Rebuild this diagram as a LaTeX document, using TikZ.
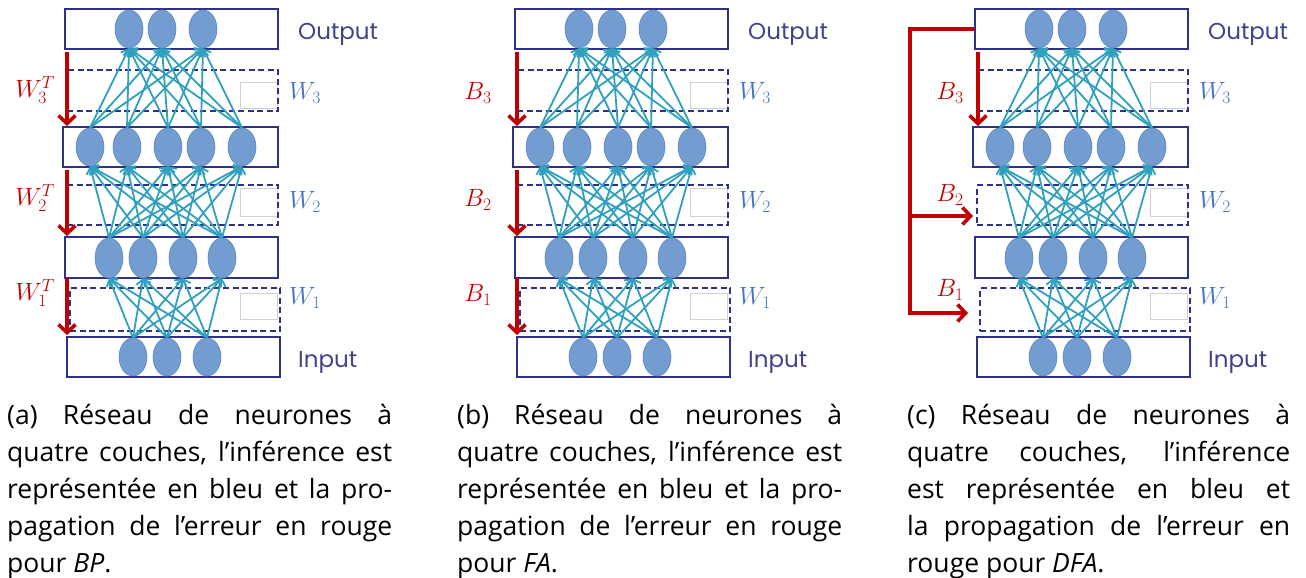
\RequirePackage{fix-cm}
\documentclass[tikz,border=0pt]{standalone}
\usetikzlibrary{arrows.meta,shapes.geometric}
\usepackage{fontspec}
\setmainfont{Open Sans}
\newfontfamily\poppinsfont{Poppins}
\definecolor{netnavy}{RGB}{46,49,136}
\definecolor{nfill}{RGB}{115,157,208}
\definecolor{nline}{RGB}{95,135,190}
\definecolor{cyanl}{RGB}{48,160,190}
\definecolor{errred}{RGB}{192,0,0}
\definecolor{wblue}{RGB}{68,114,196}
\definecolor{labelc}{RGB}{66,66,140}
\tikzset{
  box/.style={draw=netnavy, line width=1.8pt, minimum width=213pt, minimum height=40pt, inner sep=0pt},
  dbox/.style={box, dash pattern=on 6pt off 3.5pt},
  neuron/.style={ellipse, fill=nfill, draw=nline, line width=0.6pt, minimum width=28pt, minimum height=38pt, inner sep=0pt},
  conn/.style={draw=cyanl, line width=1.8pt, -{Straight Barb[length=6pt,width=11pt]}},
  err/.style={draw=errred, line width=3.6pt, -{Straight Barb[length=8pt,width=17pt]}},
  errline/.style={draw=errred, line width=3.6pt},
  ghost/.style={draw=black!18, line width=0.6pt, fill=white, minimum width=37pt, minimum height=26pt, inner sep=0pt},
  lbl/.style={font=\poppinsfont\fontsize{23}{27}\selectfont, text=labelc, inner sep=0pt, anchor=base west},
  wl/.style={text=wblue, inner sep=0pt, font=\fontsize{25}{30}\selectfont},
  rl/.style={text=errred, inner sep=0pt, font=\fontsize{25}{30}\selectfont},
  captext/.style={align=left, inner sep=0pt, anchor=base west, font=\fontsize{26.5}{37}\selectfont}
}
\newcommand\drawnet[2]{%
\begin{scope}[shift={(#2,0)}]
  \node[ghost] (#1g3) at (258.5,95) {};
  \node[ghost,minimum height=28pt] (#1g2) at (258.5,202) {};
  \node[ghost] (#1g1) at (258.5,306) {};
  \node[box] (#1ob) at (171.5,29) {};
  \node[dbox,minimum width=211pt,minimum height=41pt] (#1d3) at (172.5,90.5) {};
  \node[box,minimum width=215pt] (#1hb2) at (170.5,147) {};
  \node[dbox,minimum width=211pt] (#1d2) at (172.5,205) {};
  \node[box,minimum height=41pt] (#1hb1) at (171.5,257.5) {};
  \node[dbox,minimum width=210pt,minimum height=43pt] (#1d1) at (175,309.5) {};
  \node[box] (#1ib) at (173.5,357) {};
  \foreach \x [count=\k] in {129,162,203} \node[neuron] (#1o\k) at (\x,29) {};
  \foreach \x [count=\k] in {90,127,168,201,242} \node[neuron] (#1h2\k) at (\x,147) {};
  \foreach \x [count=\k] in {109,143,183,222} \node[neuron,minimum height=40pt] (#1h1\k) at (\x,258) {};
  \foreach \x [count=\k] in {133,167,207} \node[neuron] (#1i\k) at (\x,357) {};
  \foreach \a in {1,...,5} \foreach \b in {1,2,3} \draw[conn] (#1h2\a.north) -- (#1o\b.south);
  \foreach \a in {1,...,4} \foreach \b in {1,...,5} \draw[conn] (#1h1\a.north) -- (#1h2\b.south);
  \foreach \a in {1,2,3} \foreach \b in {1,...,4} \draw[conn] (#1i\a.north) -- (#1h1\b.south);
  \node[lbl] (#1out) at (298,40) {Output};
  \node[lbl] (#1in) at (298,367) {Input};
  \node[wl] (#1w3) at (305,93) {$W_3$};
  \node[wl] (#1w2) at (305,202) {$W_2$};
  \node[wl] (#1w1) at (305,298) {$W_1$};
\end{scope}}
\begin{document}
\begin{tikzpicture}[x=1pt,y=-1pt]
\useasboundingbox (0,0) rectangle (1306,578);
% panel (a)
\drawnet{a}{0}
\node[rl] (aW3) at (35,90) {$W_3^T$};
\node[rl] (aW2) at (35,198) {$W_2^T$};
\node[rl] (aW1) at (35,293) {$W_1^T$};
\coordinate (ar3s) at (67,52); \coordinate (ar3e) at (67,126);
\coordinate (ar2s) at (67,170); \coordinate (ar2e) at (67,236);
\coordinate (ar1s) at (67,278); \coordinate (ar1e) at (67,335);
\draw[err] (ar3s) -- (ar3e);
\draw[err] (ar2s) -- (ar2e);
\draw[err] (ar1s) -- (ar1e);
% panel (b)
\drawnet{b}{450}
\node[rl] (bB3) at (478,93) {$B_3$};
\node[rl] (bB2) at (478,200) {$B_2$};
\node[rl] (bB1) at (478,295) {$B_1$};
\coordinate (br3s) at (517,52); \coordinate (br3e) at (517,126);
\coordinate (br2s) at (517,170); \coordinate (br2e) at (517,236);
\coordinate (br1s) at (517,278); \coordinate (br1e) at (517,335);
\draw[err] (br3s) -- (br3e);
\draw[err] (br2s) -- (br2e);
\draw[err] (br1s) -- (br1e);
% panel (c)
\drawnet{c}{910}
\node[rl] (cB3) at (950,93) {$B_3$};
\node[rl] (cB2) at (950,195) {$B_2$};
\node[rl] (cB1) at (950,290) {$B_1$};
\coordinate (cr3s) at (978,52); \coordinate (cr3e) at (978,126);
\draw[err] (cr3s) -- (cr3e);
\coordinate (ccorner) at (910,29);
\coordinate (cbranch) at (910,216);
\coordinate (cbottom) at (910,313);
\coordinate (ctip2) at (973,216);
\coordinate (ctip1) at (968,313);
\draw[errline, line join=miter] (cob.west) -- (ccorner) -- (cbottom);
\draw[err] ([yshift=1.8pt]cbottom) |- (ctip1);
\draw[err] (cbranch) -- (ctip2);
% captions (base anchor = last line)
\node[captext] (capa) at (7,572) {\makebox[385pt][s]{(a) Réseau de neurones à}\\
\makebox[385pt][s]{quatre couches, l’inférence est}\\
\makebox[385pt][s]{représentée en bleu et la pro-}\\
\makebox[385pt][s]{pagation de l’erreur en rouge}\\
pour \textit{BP}.};
\node[captext] (capb) at (457,572) {\makebox[385pt][s]{(b) Réseau de neurones à}\\
\makebox[385pt][s]{quatre couches, l’inférence est}\\
\makebox[385pt][s]{représentée en bleu et la pro-}\\
\makebox[385pt][s]{pagation de l’erreur en rouge}\\
pour \textit{FA}.};
\node[captext] (capc) at (907,572) {\makebox[383pt][s]{(c) Réseau de neurones à}\\
\makebox[383pt][s]{quatre couches, l’inférence}\\
\makebox[383pt][s]{est représentée en bleu et}\\
\makebox[383pt][s]{la propagation de l’erreur en}\\
rouge pour \textit{DFA}.};
\end{tikzpicture}
\end{document}
